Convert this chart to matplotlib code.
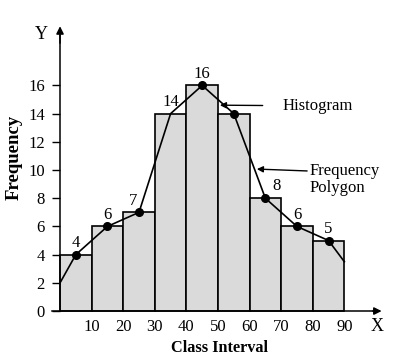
import matplotlib
matplotlib.use('Agg')
import matplotlib.pyplot as plt

# class intervals and frequencies
lower = [0, 10, 20, 30, 40, 50, 60, 70, 80]
freq = [4, 6, 7, 14, 16, 14, 8, 6, 5]
width = 10

# frequency polygon (ends clipped at the histogram edges)
poly_x = [0, 5, 15, 25, 35, 45, 55, 65, 75, 85, 90]
poly_y = [2, 4, 6, 7, 14, 16, 14, 8, 6, 5, 3.5]

# points marked with a dot and labelled
dot_x = [5, 15, 25, 45, 55, 65, 75, 85]
dot_y = [4, 6, 7, 16, 14, 8, 6, 5]
lab_x = [5, 15, 25, 35, 45, 65, 75, 85]
lab_y = [4, 6, 7, 14, 16, 8, 6, 5]

yticks = [0, 2, 4, 6, 8, 10, 12, 14, 16]
xticks = [10, 20, 30, 40, 50, 60, 70, 80, 90]

plt.rcParams['font.family'] = ['Liberation Serif', 'DejaVu Serif']
fs = 12

fig = plt.figure(figsize=(3.99, 3.58), dpi=100)
ax = fig.add_axes([0, 0, 1, 1])
ax.set_xlim(-19, 107.3)
ax.set_ylim(-3.33, 22.06)

ax.bar(lower, freq, width=width, align='edge', color='#dadada',
       edgecolor='black', linewidth=1.2, zorder=2)

ax.plot(poly_x, poly_y, color='black', lw=1.2, zorder=3)
ax.plot(dot_x, dot_y, 'o', color='black', ms=5.5, zorder=4)

for x, y in zip(lab_x, lab_y):
  dx = 0
  if y == 7:
    dx = -4
  if y == 8:
    dx = 8
  ax.annotate(str(y), (x, y), xytext=(dx, 8.5), textcoords='offset points',
              ha='center', va='center', fontsize=fs)

# axes through the origin with arrow heads
for s in ['top', 'right']:
  ax.spines[s].set_visible(False)
ax.spines['left'].set_position(('data', 0))
ax.spines['bottom'].set_position(('data', 0))
ax.spines['left'].set_bounds(0, 19.6)
ax.spines['bottom'].set_bounds(-2.5, 100.5)
ax.spines['left'].set_linewidth(1.1)
ax.spines['bottom'].set_linewidth(1.1)
ax.annotate('', xy=(0, 20.2), xytext=(0, 19),
            arrowprops=dict(arrowstyle='-|>', color='black', lw=1.1,
                            mutation_scale=11, shrinkA=0, shrinkB=0))
ax.annotate('', xy=(101.8, 0), xytext=(99, 0),
            arrowprops=dict(arrowstyle='-|>', color='black', lw=1.1,
                            mutation_scale=11, shrinkA=0, shrinkB=0))
ax.text(-3.8, 19.6, 'Y', ha='right', va='center', fontsize=fs + 1)
ax.text(100.3, -1.1, 'X', ha='center', va='center', fontsize=fs + 1)

ax.set_yticks(yticks)
ax.set_xticks(xticks)
ax.tick_params(axis='y', direction='out', length=6, width=1, pad=5, labelsize=fs)
ax.tick_params(axis='x', length=0, pad=6, labelsize=fs)

ax.text(-14.6, 10.9, 'Frequency', rotation=90, ha='center', va='center',
        fontsize=fs + 1.5, fontweight='bold')
ax.text(50.6, -2.62, 'Class Interval', ha='center', va='center',
        fontsize=fs - 0.3, fontweight='bold')

ax.annotate('Histogram', xy=(50.6, 14.6), xytext=(70.3, 14.55),
            ha='left', va='center', fontsize=fs,
            arrowprops=dict(arrowstyle='-|>', color='black', lw=1,
                            mutation_scale=9, shrinkA=12, shrinkB=0))
ax.annotate('Frequency\nPolygon', xy=(62.3, 10.07), xytext=(79.1, 9.35),
            ha='left', va='center', fontsize=fs, linespacing=1.05,
            arrowprops=dict(arrowstyle='-|>', color='black', lw=1,
                            mutation_scale=9, shrinkA=0, shrinkB=0,
                            relpos=(0, 0.75)))

fig.savefig('out.png', dpi=100)
